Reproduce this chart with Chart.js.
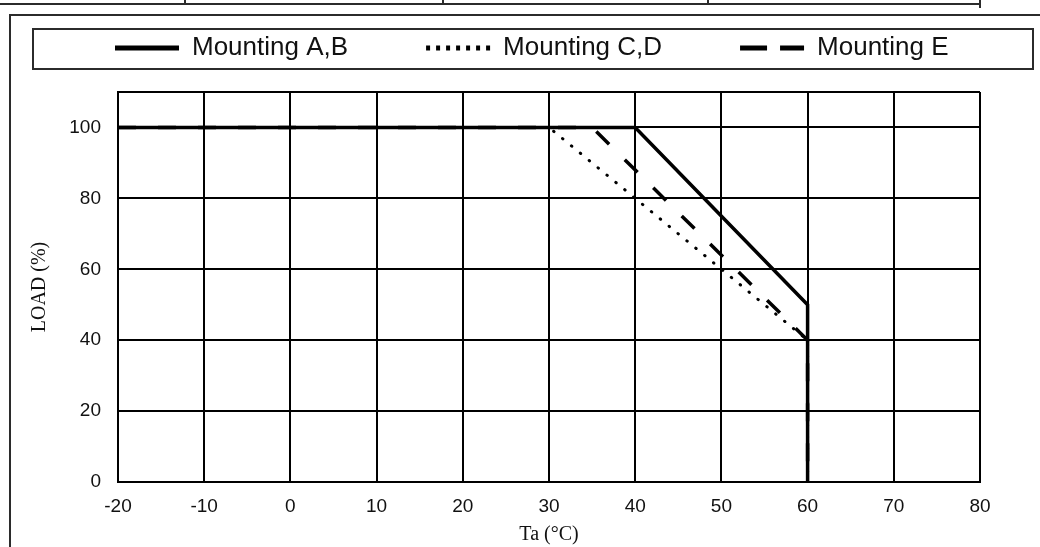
<!DOCTYPE html>
<html>
<head>
<meta charset="utf-8">
<script src="https://cdn.jsdelivr.net/npm/chart.js"></script>
<style>
  body { margin: 0; background: #fff; }
  canvas { display: block; }
</style>
</head>
<body>
<canvas id="deratingChart" width="1040" height="547"></canvas>
<script>
// derating curves
const seriesLabels = ['Mounting A,B', 'Mounting C,D', 'Mounting E'];
const tempAB = [-20, 40, 60, 60];
const loadAB = [100, 100, 50, 0];
const tempCD = [-20, 30, 60, 60];
const loadCD = [100, 100, 40, 0];
const tempE = [-20, 35, 60, 60];
const loadE = [100, 100, 40, 0];

const xTicks = [-20, -10, 0, 10, 20, 30, 40, 50, 60, 70, 80];
const yTicks = [0, 20, 40, 60, 80, 100];
const yTop = 110;

function points(xs, ys) {
    return xs.map((x, i) => ({ x: x, y: ys[i] }));
}

const sans = 'Liberation Sans, Arial, sans-serif';
const serif = 'Liberation Serif, Times New Roman, serif';
const legendDash = [[], [4, 6], [27, 13]];

// page frame around the chart (table edge, outer box, legend box)
const framePlugin = {
    id: 'frame',
    beforeDraw(chart) {
        const ctx = chart.ctx;
        ctx.save();
        ctx.fillStyle = '#fff';
        ctx.fillRect(0, 0, chart.width, chart.height);
        ctx.strokeStyle = '#2b2b2b';
        ctx.lineWidth = 2;
        ctx.beginPath();
        ctx.moveTo(0, 4);
        ctx.lineTo(980, 4);
        [185, 443, 708].forEach(x => { ctx.moveTo(x, 0); ctx.lineTo(x, 4); });
        ctx.moveTo(980, 0);
        ctx.lineTo(980, 8);
        ctx.moveTo(10, 547);
        ctx.lineTo(10, 15);
        ctx.lineTo(1040, 15);
        ctx.stroke();
        ctx.strokeRect(33, 29, 1000, 40);
        ctx.restore();
    }
};

const derating = new Chart(document.getElementById('deratingChart'), {
    type: 'line',
    data: {
        datasets: [
            {
                label: seriesLabels[0],
                data: points(tempAB, loadAB),
                borderColor: '#000',
                borderWidth: 3.5,
                pointRadius: 0,
                fill: false,
                lineTension: 0
            },
            {
                label: seriesLabels[1],
                data: points(tempCD, loadCD),
                borderColor: '#000',
                borderWidth: 3,
                borderDash: [0.5, 11],
                borderCapStyle: 'round',
                pointRadius: 0,
                fill: false,
                lineTension: 0
            },
            {
                label: seriesLabels[2],
                data: points(tempE, loadE),
                borderColor: '#000',
                borderWidth: 3.5,
                borderDash: [18, 22],
                pointRadius: 0,
                fill: false,
                lineTension: 0
            }
        ]
    },
    options: {
        responsive: false,
        animation: false,
        layout: {
            padding: { top: -43, left: 37, right: 0, bottom: 0 }
        },
        plugins: {
            tooltip: { enabled: false },
            legend: {
                display: true,
                position: 'top',
                align: 'start',
                labels: {
                    usePointStyle: true,
                    pointStyle: 'line',
                    pointStyleWidth: 64,
                    padding: 78,
                    color: '#111',
                    font: { family: sans, size: 26 },
                    generateLabels: chart =>
                        Chart.defaults.plugins.legend.labels.generateLabels(chart).map((item, i) =>
                            Object.assign(item, { lineWidth: 5, lineDash: legendDash[i], lineCap: 'butt' }))
                }
            },
            // empty title used only as the gap between legend and plot
            title: {
                display: true,
                text: '',
                weight: 500,
                padding: 0,
                font: { size: 21, lineHeight: 1 }
            }
        },
        scales: {
            x: {
                type: 'linear',
                min: -20,
                max: 80,
                afterBuildTicks: s => { s.ticks = xTicks.map(v => ({ value: v })); },
                afterFit: s => { s.height = 65; s.paddingRight = 60; },
                grid: { color: '#000', lineWidth: 2, drawTicks: false },
                border: { color: '#000', width: 2 },
                ticks: {
                    padding: 13,
                    color: '#111',
                    font: { family: sans, size: 19 },
                    maxRotation: 0
                },
                title: {
                    display: true,
                    text: 'Ta (°C)',
                    color: '#111',
                    padding: { top: 0, bottom: 0 },
                    font: { family: serif, size: 20 }
                }
            },
            y: {
                type: 'linear',
                min: 0,
                max: yTop,
                afterBuildTicks: s => { s.ticks = yTicks.concat([yTop]).map(v => ({ value: v })); },
                afterFit: s => { s.width = 81; },
                grid: { color: '#000', lineWidth: 2, drawTicks: false },
                border: { color: '#000', width: 2 },
                ticks: {
                    padding: 17,
                    color: '#111',
                    font: { family: sans, size: 19 },
                    callback: v => (yTicks.includes(v) ? v : '')
                },
                title: {
                    display: true,
                    text: 'LOAD (%)',
                    color: '#111',
                    padding: { top: -9, bottom: 0 },
                    font: { family: serif, size: 20 }
                }
            }
        }
    },
    plugins: [framePlugin]
});
</script>
</body>
</html>
